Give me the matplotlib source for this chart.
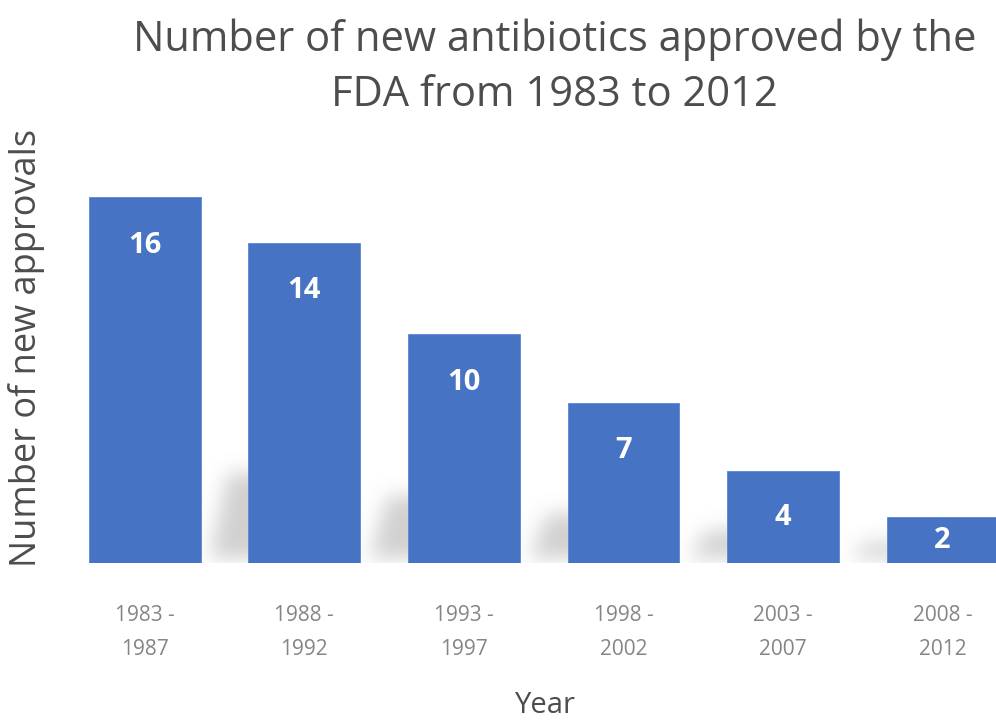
import numpy as np
import matplotlib
matplotlib.use('Agg')
import matplotlib.pyplot as plt

plt.rcParams['font.family'] = ['Open Sans', 'DejaVu Sans']

# data
periods = ['1983 -\n1987', '1988 -\n1992', '1993 -\n1997', '1998 -\n2002', '2003 -\n2007', '2008 -\n2012']
approvals = [16, 14, 10, 7, 4, 2]

BAR = '#4673c3'
TITLE_C = '#4d4d4d'
TICK_C = '#858585'

fig = plt.figure(figsize=(9.96, 7.24), dpi=100)
ax = fig.add_axes([0.0653, 0.2224, 0.961, 0.5687])
x = np.arange(len(approvals))
ax.set_xlim(-0.5, len(approvals) - 0.5)
ax.set_ylim(0, 18)

# soft floor shadow cast to the left of each bar (decorative)
nx, ny = 960, 140
ys = np.linspace(0, 6, ny)
xs = np.linspace(-0.5, len(approvals) - 0.5, nx)
XX, YY = np.meshgrid(xs, ys)
mask = np.zeros_like(XX)
for i, v in enumerate(approvals):
    if i == 0:
        continue
    h = 0.25 * v + 0.4
    left = i - 0.60 + 0.12 * (YY / h)
    mask[(XX > left) & (XX < i) & (YY < h) & (YY > 0.2)] = 1.0
k = np.exp(-0.5 * (np.arange(-30, 31) / 10.0) ** 2)
k /= k.sum()
mask = np.apply_along_axis(lambda r: np.convolve(r, k, mode='same'), 1, mask)
mask = np.apply_along_axis(lambda c: np.convolve(c, k, mode='same'), 0, mask)
img = np.zeros((ny, nx, 4))
img[..., :3] = 0.62
img[..., 3] = mask * 0.48
ax.imshow(img, extent=[-0.5, len(approvals) - 0.5, 0, 6], origin='lower',
          aspect='auto', zorder=1, interpolation='bilinear')

bars = ax.bar(x, approvals, width=0.70, color=BAR, edgecolor='#5b86d0', lw=0.6, zorder=2)
for xi, v in zip(x, approvals):
    ly = v - 2.1 if v - 2.1 > v / 2 else max(v / 2, 0.9)
    ax.text(xi, ly, str(v), ha='center', va='center', color='white',
            fontsize=21, weight='bold', zorder=3)

ax.set_xticks(x)
ax.set_xticklabels(periods, color=TICK_C, fontsize=15, linespacing=1.85)
ax.tick_params(axis='x', length=0, pad=30)
ax.set_yticks([])
for s in ax.spines.values():
    s.set_visible(False)

fig.text(0.557, 0.907, 'Number of new antibiotics approved by the\nFDA from 1983 to 2012',
         ha='center', va='center', fontsize=30, color=TITLE_C, linespacing=1.4)
fig.text(0.548, 0.025, 'Year', ha='center', va='center', fontsize=21, color=TITLE_C)
fig.text(0.027, 0.52, 'Number of new approvals', ha='center', va='center',
         rotation=90, fontsize=26, color=TITLE_C)

fig.savefig('out.png', dpi=100, facecolor='white')
